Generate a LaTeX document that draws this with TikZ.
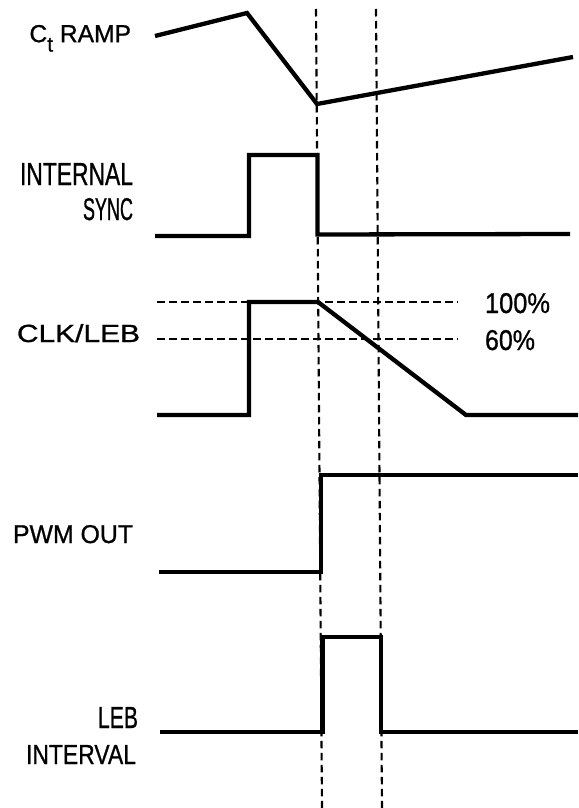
\documentclass[tikz,border=0pt]{standalone}
\usepackage{fontspec}
\setmainfont{Liberation Sans}
\newfontfamily\lblfont{Liberation Sans}[RawFeature={embolden=0.9}]
\usepackage{graphicx}
\begin{document}
\begin{tikzpicture}[x=1pt,y=-1pt,
  wave/.style={line width=4.3pt,line join=miter,line cap=butt},
  guide/.style={line width=2.1pt,dash pattern=on 7.5pt off 4.5pt},
  lbl/.style={inner sep=0pt,outer sep=0pt,font=\lblfont}]
\useasboundingbox (0,0) rectangle (578,808);
% labels
\node[lbl,anchor=north west] (ct) at (29.5,25) {\resizebox{101.5pt}{!}{C\raisebox{-0.38em}{\scalebox{0.85}{t}} RAMP}};
\node[lbl,anchor=north east] (int) at (133,163) {\resizebox{113pt}{22pt}{INTERNAL}};
\node[lbl,anchor=north east] (sync) at (133,198) {\resizebox{50pt}{22pt}{SYNC}};
\node[lbl,anchor=north west] (clk) at (17,324) {\resizebox{123pt}{18pt}{CLK/LEB}};
\node[lbl,anchor=north west] (p100) at (485,293) {\resizebox{65pt}{20pt}{100\%}};
\node[lbl,anchor=north west] (p60) at (485,330) {\resizebox{50pt}{20pt}{60\%}};
\node[lbl,anchor=north west] (pwm) at (13,525) {\resizebox{120pt}{18pt}{PWM\ OUT}};
\node[lbl,anchor=north east] (leb) at (138,707) {\resizebox{40pt}{21pt}{LEB}};
\node[lbl,anchor=north east] (ival) at (136,745) {\resizebox{110pt}{19pt}{INTERVAL}};
% vertical guides
\draw[guide] (316,9) -- (322,808);
\draw[guide] (376,9) -- (382,808);
% horizontal guides
\draw[guide] (157,302) -- (458,302);
\draw[guide] (157,339) -- (458,339);
% Ct ramp
\draw[wave] (155,36) -- (247,13) -- (317,104) -- (573,57);
% internal sync
\draw[wave] (155,236) -- (249,236) -- (249,155) -- (317.5,155) -- (317.5,234.5) -- (570,234);
% CLK/LEB
\draw[wave] (157,415) -- (249,415) -- (249,302) -- (318,302) -- (466,415) -- (578,415);
% PWM out
\draw[wave] (159,572) -- (321,572) -- (321,475) -- (578,475);
% LEB interval
\draw[wave] (160,732) -- (322.5,732) -- (322.5,637) -- (381,637) -- (381,732) -- (578,732);
\end{tikzpicture}
\end{document}
